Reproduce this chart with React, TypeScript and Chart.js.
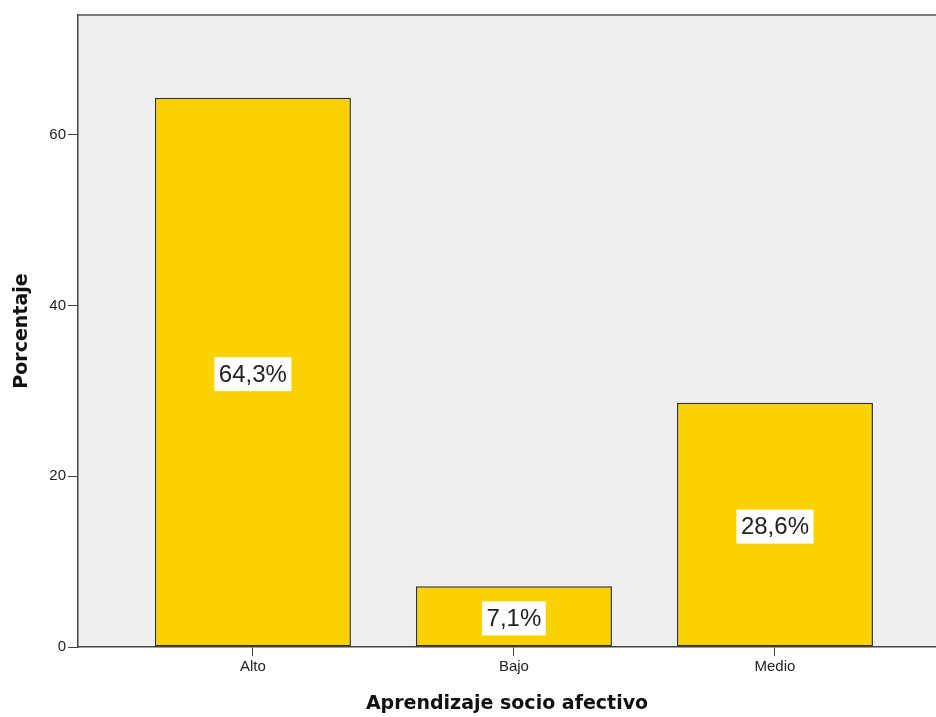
import React, { useEffect, useRef } from "react";
import { Chart, registerables } from "chart.js";

Chart.register(...registerables);

const categories = ["Alto", "Bajo", "Medio"];
const percentValues = [64.3, 7.1, 28.6];
const valueLabels = ["64,3%", "7,1%", "28,6%"];
const yTicks = [0, 20, 40, 60];

const valueLabelPlugin = {
  id: "valueLabels",
  beforeDraw(chart: any) {
    const { ctx, chartArea } = chart;
    ctx.save();
    ctx.fillStyle = "#efefef";
    ctx.fillRect(chartArea.left, chartArea.top, chartArea.right - chartArea.left, chartArea.bottom - chartArea.top);
    ctx.restore();
  },
  afterDatasetsDraw(chart: any) {
    const { ctx, chartArea } = chart;
    const meta = chart.getDatasetMeta(0);
    ctx.save();
    ctx.font = "24px 'Liberation Sans', Arial, sans-serif";
    ctx.textAlign = "center";
    ctx.textBaseline = "middle";
    meta.data.forEach((bar: any, i: number) => {
      const text = valueLabels[i];
      const cx = bar.x;
      const cy = (bar.y + bar.base) / 2 + 2;
      const w = ctx.measureText(text).width + 9;
      const h = 34;
      ctx.fillStyle = "#ffffff";
      ctx.fillRect(cx - w / 2, cy - h / 2, w, h);
      ctx.fillStyle = "#222222";
      ctx.fillText(text, cx, cy + 1);
    });
    // top frame line
    ctx.strokeStyle = "#555555";
    ctx.lineWidth = 1.5;
    ctx.beginPath();
    ctx.moveTo(chartArea.left, chartArea.top);
    ctx.lineTo(chartArea.right, chartArea.top);
    ctx.stroke();
    ctx.restore();
  },
};

export default function App() {
  const ref = useRef<HTMLCanvasElement | null>(null);
  useEffect(() => {
    if (!ref.current) return;
    const chart = new Chart(ref.current, {
      type: "bar",
      data: {
        datasets: [
          {
            data: percentValues.map((v, i) => ({ x: i, y: v })),
            backgroundColor: "rgb(250,210,0)",
            borderColor: "#333333",
            borderWidth: 1.5,
            borderSkipped: false,
            barPercentage: 0.751,
            categoryPercentage: 1,
          },
        ],
      },
      options: {
        animation: false,
        responsive: false,
        layout: { padding: { top: 15, right: 0, left: 0, bottom: 0 } },
        plugins: { legend: { display: false }, tooltip: { enabled: false } },
        scales: {
          x: {
            type: "linear",
            min: -0.67,
            max: 2.617,
            offset: false,
            afterBuildTicks: (scale: any) => {
              scale.ticks = categories.map((_, i) => ({ value: i }));
            },
            afterFit: (scale: any) => {
              scale.height = 70;
            },
            grid: { display: true, drawOnChartArea: false, drawTicks: true, tickLength: 9, color: "#444444", offset: false },
            border: { display: true, color: "#444444", width: 1.5 },
            ticks: {
              padding: 2,
              color: "#222222",
              font: { family: "'Liberation Sans', Arial, sans-serif", size: 15 },
              callback: (v: any) => categories[v as number] ?? "",
            },
            title: {
              display: true,
              text: "Aprendizaje socio afectivo",
              color: "#111111",
              font: { family: "'DejaVu Sans', Verdana, sans-serif", size: 19, weight: "bold" },
              padding: { top: 0, bottom: 2 },
            },
          },
          y: {
            type: "linear",
            min: 0,
            max: 74,
            afterBuildTicks: (scale: any) => {
              scale.ticks = yTicks.map((v) => ({ value: v }));
            },
            afterFit: (scale: any) => {
              scale.width = 78;
            },
            grid: { display: true, drawOnChartArea: false, drawTicks: true, tickLength: 10, color: "#444444" },
            border: { display: true, color: "#444444", width: 1.5 },
            ticks: {
              padding: 2,
              color: "#222222",
              font: { family: "'Liberation Sans', Arial, sans-serif", size: 15 },
            },
            title: {
              display: true,
              text: "Porcentaje",
              color: "#111111",
              font: { family: "'DejaVu Sans', Verdana, sans-serif", size: 19, weight: "bold" },
              padding: { top: 11, bottom: 0 },
            },
          },
        },
      } as any,
      plugins: [valueLabelPlugin],
    });
    return () => chart.destroy();
  }, []);
  return (
    <div style={{ position: "absolute", left: 0, top: 0, width: 936, height: 717, background: "#ffffff" }}>
      <canvas ref={ref} width={936} height={717} style={{ display: "block" }} />
    </div>
  );
}
